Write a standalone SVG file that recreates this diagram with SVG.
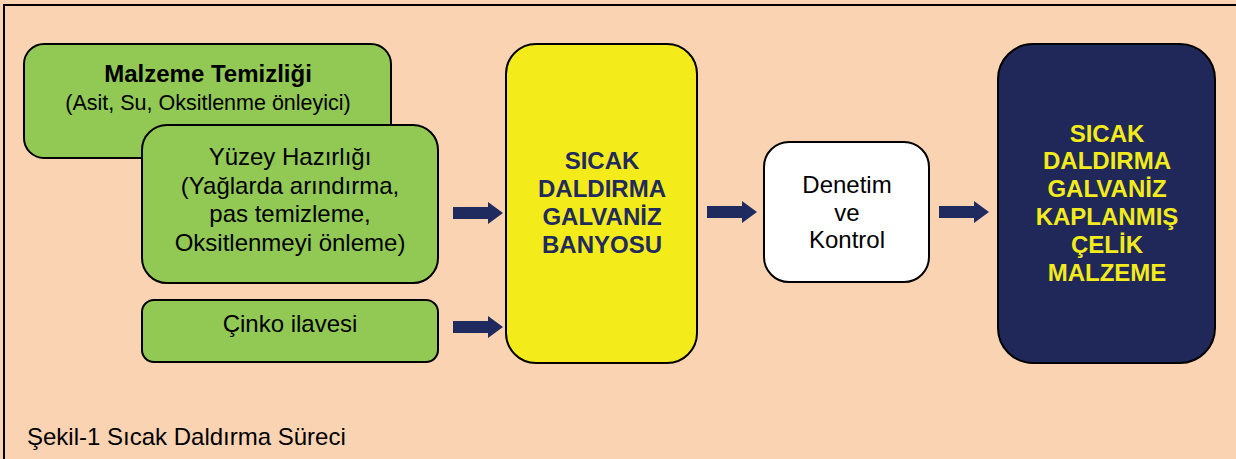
<svg xmlns="http://www.w3.org/2000/svg" width="1236" height="459" viewBox="0 0 1236 459">
<style>
.box{stroke:#000;stroke-width:2}
.g{fill:#92C955}
.t{font-family:"Liberation Sans",Arial,sans-serif;font-size:24px;text-anchor:middle;fill:#000}
.b{font-weight:bold}
.arr{fill:#1F2A5E}
</style>
<defs>
<path id="arrow" d="M0,-6 H35 V-11 L50,0 L35,11 V6 H0 Z"/>
</defs>
<rect x="0" y="0" width="1236" height="459" fill="#FAD3B3"/>
<path d="M4,459 V5 H1236" fill="none" stroke="#000" stroke-width="2"/>

<g id="node-malzeme">
<rect class="box g" x="24" y="44" width="367" height="114" rx="20"/>
<text class="t b" x="208" y="82">Malzeme Temizliği</text>
<text class="t" x="208" y="110" style="font-size:21.5px">(Asit, Su, Oksitlenme önleyici)</text>
</g>
<g id="node-yuzey">
<rect class="box g" x="142" y="125" width="296" height="158" rx="25"/>
<text class="t" x="290" y="165">Yüzey Hazırlığı</text>
<text class="t" x="290" y="193.5">(Yağlarda arındırma,</text>
<text class="t" x="290" y="222">pas temizleme,</text>
<text class="t" x="290" y="250.5">Oksitlenmeyi önleme)</text>
</g>
<g id="node-cinko">
<rect class="box g" x="142" y="300" width="296" height="62" rx="12"/>
<text class="t" x="290" y="332">Çinko ilavesi</text>
</g>
<g id="node-banyo">
<rect class="box" fill="#F3EB1A" x="506" y="44" width="191" height="319" rx="30"/>
<text class="t b" x="602" y="169" fill="#1F2A5E" style="fill:#1F2A5E">SICAK</text>
<text class="t b" x="602" y="197" style="fill:#1F2A5E">DALDIRMA</text>
<text class="t b" x="602" y="225" style="fill:#1F2A5E">GALVANİZ</text>
<text class="t b" x="602" y="253" style="fill:#1F2A5E">BANYOSU</text>
</g>
<g id="node-denetim">
<rect class="box" fill="#FFFFFF" x="764" y="142" width="165" height="140" rx="25"/>
<text class="t" x="847" y="193">Denetim</text>
<text class="t" x="847" y="221">ve</text>
<text class="t" x="847" y="248">Kontrol</text>
</g>
<g id="node-sonuc">
<rect class="box" fill="#1F2859" x="998" y="44" width="217" height="319" rx="35"/>
<text class="t b" x="1107" y="142" style="fill:#F3EB1A">SICAK</text>
<text class="t b" x="1107" y="169" style="fill:#F3EB1A">DALDIRMA</text>
<text class="t b" x="1107" y="197" style="fill:#F3EB1A">GALVANİZ</text>
<text class="t b" x="1107" y="225" style="fill:#F3EB1A">KAPLANMIŞ</text>
<text class="t b" x="1107" y="253" style="fill:#F3EB1A">ÇELİK</text>
<text class="t b" x="1107" y="281" style="fill:#F3EB1A">MALZEME</text>
</g>
<g id="connectors">
<use href="#arrow" class="arr" x="453" y="213"/>
<use href="#arrow" class="arr" x="453" y="327"/>
<use href="#arrow" class="arr" x="707" y="212"/>
<use href="#arrow" class="arr" x="939" y="212"/>
</g>
<text x="27" y="445" style="font-family:'Liberation Sans',Arial,sans-serif;font-size:24px;fill:#000">Şekil-1 Sıcak Daldırma Süreci</text>
</svg>
